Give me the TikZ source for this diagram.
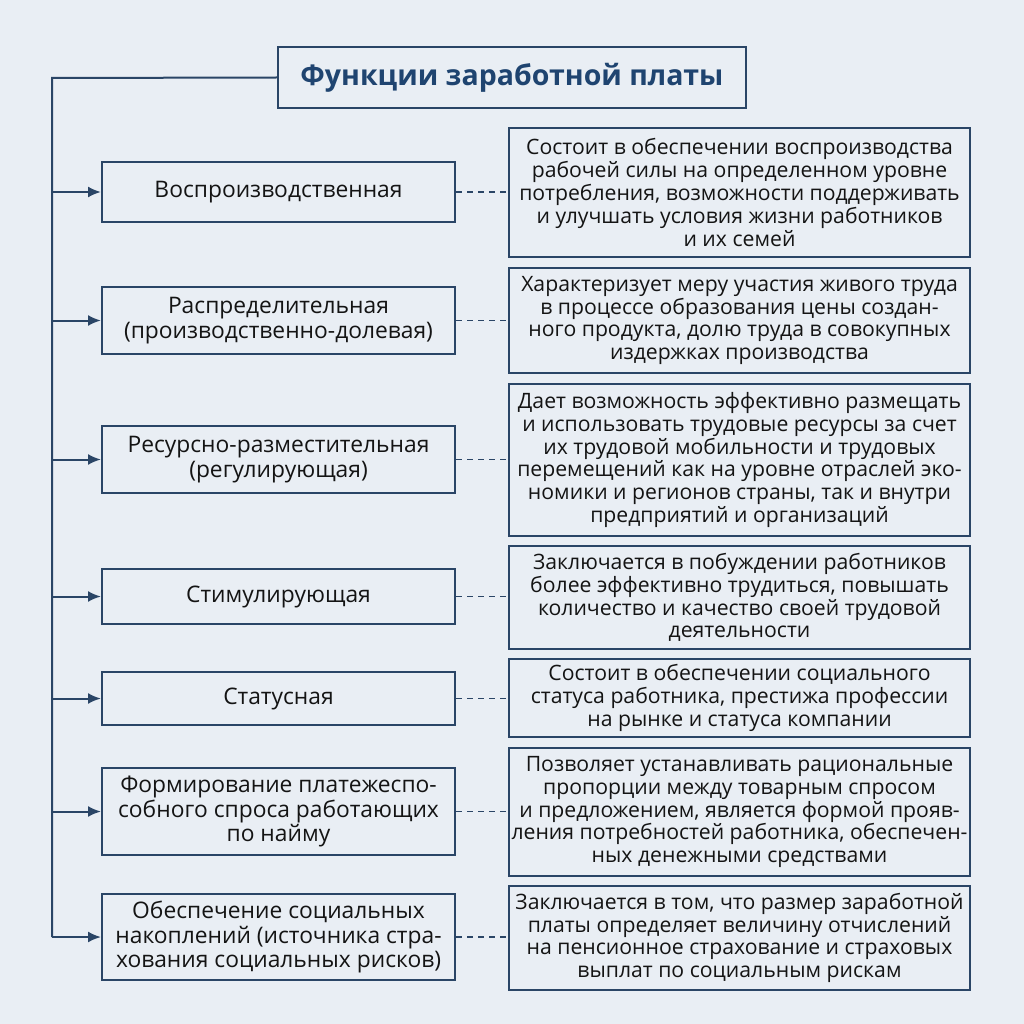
\documentclass[tikz,border=0pt]{standalone}
\usepackage{fontspec}
\setmainfont{Open Sans}
\usepackage{tikz}
\usetikzlibrary{arrows.meta}
\usepackage{xcolor}
\definecolor{bgcol}{HTML}{E9EEF4}
\definecolor{linecol}{HTML}{2A4566}
\definecolor{titlecol}{HTML}{1F4470}
\definecolor{txtcol}{HTML}{141414}

\begin{document}
\begin{tikzpicture}[x=1pt, y=-1pt,
        funcbox/.style={draw=linecol, line width=2pt, fill=bgcol, text=txtcol, align=center, inner sep=0pt,
            minimum width=353pt, font=\fontsize{22.8}{24.5}\selectfont},
        descbox/.style={draw=linecol, line width=2pt, fill=bgcol, text=txtcol, align=center, inner sep=0pt,
            minimum width=461pt, font=\fontsize{21.2}{22.8}\selectfont},
        feed/.style={-{Latex[length=13pt, width=11pt]}, draw=linecol, line width=2pt},
        link/.style={draw=linecol, line width=1.3pt, dash pattern=on 6pt off 5pt}]

        \useasboundingbox[fill=bgcol] (0,0) rectangle (1024,1024);

        \node[draw=linecol, line width=2pt, fill=bgcol, text=titlecol, minimum width=468pt, minimum height=61pt,
            font=\fontsize{28.5}{32}\selectfont\bfseries] (title) at (512,77.5) {Функции заработной платы};

        \node[funcbox, minimum height=60pt] (f1) at (278.5,192) {Воспроизводственная};
        \node[funcbox, minimum height=67pt] (f2) at (278.5,320.5) {Распределительная\\(производственно-долевая)};
        \node[funcbox, minimum height=67pt] (f3) at (278.5,459.5) {Ресурсно-разместительная\\(регулирующая)};
        \node[funcbox, minimum height=55pt] (f4) at (278.5,596.5) {Стимулирующая};
        \node[funcbox, minimum height=53pt] (f5) at (278.5,698.5) {Статусная};
        \node[funcbox, minimum height=87pt] (f6) at (278.5,811.5) {Формирование платежеспо-\\собного спроса работающих\\по найму};
        \node[funcbox, minimum height=86pt] (f7) at (278.5,937) {Обеспечение социальных\\накоплений (источника стра-\\хования социальных рисков)};

        \node[descbox, minimum height=129pt] (d1) at (739.5,192.5) {Состоит в обеспечении воспроизводства\\рабочей силы на определенном уровне\\потребления, возможности поддерживать\\и улучшать условия жизни работников\\и их семей};
        \node[descbox, minimum height=105pt] (d2) at (739.5,320.5) {Характеризует меру участия живого труда\\в процессе образования цены создан-\\ного продукта, долю труда в совокупных\\издержках производства};
        \node[descbox, minimum height=152pt] (d3) at (739.5,460) {Дает возможность эффективно размещать\\и использовать трудовые ресурсы за счет\\их трудовой мобильности и трудовых\\перемещений как на уровне отраслей эко-\\номики и регионов страны, так и внутри\\предприятий и организаций};
        \node[descbox, minimum height=103pt] (d4) at (739.5,597.5) {Заключается в побуждении работников\\более эффективно трудиться, повышать\\количество и качество своей трудовой\\деятельности};
        \node[descbox, minimum height=78pt] (d5) at (739.5,698) {Состоит в обеспечении социального\\статуса работника, престижа профессии\\на рынке и статуса компании};
        \node[descbox, minimum height=128pt] (d6) at (739.5,812) {Позволяет устанавливать рациональные\\пропорции между товарным спросом\\и предложением, является формой прояв-\\ления потребностей работника, обеспечен-\\ных денежными средствами};
        \node[descbox, minimum height=104pt] (d7) at (739.5,938) {Заключается в том, что размер заработной\\платы определяет величину отчислений\\на пенсионное страхование и страховых\\выплат по социальным рискам};

        % trunk from the title down the left side
        \coordinate (trunk) at (52,78);
        \draw[draw=linecol, line width=2pt] (title.west) -- (trunk) -- (trunk |- f7.west);

        \draw[feed] (trunk |- f1.west) -- (f1.west);
        \draw[feed] (trunk |- f2.west) -- (f2.west);
        \draw[feed] (trunk |- f3.west) -- (f3.west);
        \draw[feed] (trunk |- f4.west) -- (f4.west);
        \draw[feed] (trunk |- f5.west) -- (f5.west);
        \draw[feed] (trunk |- f6.west) -- (f6.west);
        \draw[feed] (trunk |- f7.west) -- (f7.west);

        \draw[link] (f1.east) -- (f1.east -| d1.west);
        \draw[link] (f2.east) -- (f2.east -| d2.west);
        \draw[link] (f3.east) -- (f3.east -| d3.west);
        \draw[link] (f4.east) -- (f4.east -| d4.west);
        \draw[link] (f5.east) -- (f5.east -| d5.west);
        \draw[link] (f6.east) -- (f6.east -| d6.west);
        \draw[link] (f7.east) -- (f7.east -| d7.west);

    \end{tikzpicture}
\end{document}
